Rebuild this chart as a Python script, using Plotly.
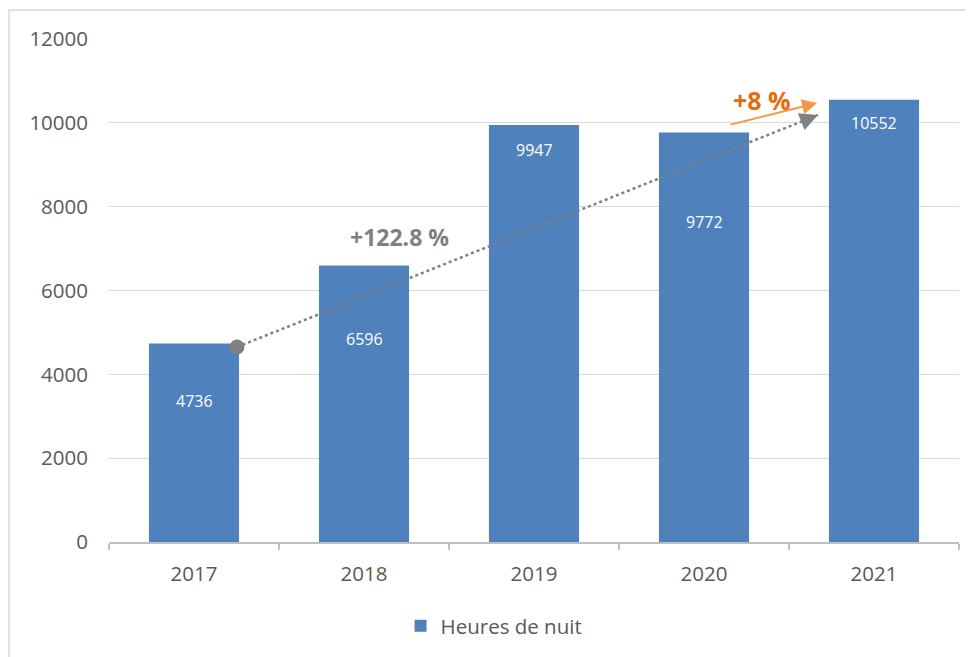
import plotly.graph_objects as go

years = ["2017", "2018", "2019", "2020", "2021"]
hours = [4736, 6596, 9947, 9772, 10552]
series_name = "Heures de nuit"
growth_total = "+122.8 %"
growth_last = "+8 %"

# vertical placement of value labels, as fraction of bar value
label_frac = [0.711, 0.734, 0.940, 0.781, 0.947]

BAR = "#4F81BD"
FONT = "Open Sans, Noto Sans, sans-serif"

pos = list(range(len(years)))

fig = go.Figure()
fig.add_trace(go.Bar(
    x=pos, y=hours, name=series_name, marker=dict(color=BAR, line=dict(width=0)),
    showlegend=True,
))

# value labels
for i, v in enumerate(hours):
    fig.add_annotation(x=pos[i], y=v * label_frac[i], text=str(v), showarrow=False,
                       font=dict(family=FONT, size=16, color="white"),
                       xref="x", yref="y")

# dotted trend line with circle at start and arrowhead at end
x_start, y_start = 0.253, 4652
x_end, y_end = 3.67, 10187
fig.add_shape(type="line", xref="x", yref="y", x0=x_start, y0=y_start, x1=x_end, y1=y_end,
              line=dict(color="#808080", width=2.5, dash="dot"))
fig.add_shape(type="circle", xref="x", yref="y", xsizemode="pixel", ysizemode="pixel",
              xanchor=x_start, yanchor=y_start, x0=-7.5, x1=7.5, y0=-7.5, y1=7.5,
              fillcolor="#808080", line=dict(color="#808080", width=0))
fig.add_annotation(x=x_end, y=y_end, ax=-11, ay=4.4, xref="x", yref="y",
                   showarrow=True, arrowhead=2, arrowsize=1.8, arrowwidth=2,
                   arrowcolor="#808080", text="", standoff=0)

# orange arrow
fig.add_annotation(x=3.665, y=10473, ax=3.147, ay=9948, xref="x", yref="y",
                   axref="x", ayref="y", showarrow=True, arrowhead=2, arrowsize=1.5,
                   arrowwidth=2, arrowcolor="#F79646", text="", standoff=0)

fig.add_annotation(x=1.21, y=7285, text="<b>%s</b>" % growth_total, showarrow=False,
                   font=dict(family=FONT, size=23, color="#7F7F7F"), xref="x", yref="y")
fig.add_annotation(x=3.34, y=10540, text="<b>%s</b>" % growth_last, showarrow=False,
                   font=dict(family=FONT, size=25, color="#E46C0A"), xref="x", yref="y")

# outer border
fig.add_shape(type="rect", xref="paper", yref="paper",
              x0=-0.1176, x1=1.5, y0=-0.6, y1=1.0577,
              line=dict(color="#D9D9D9", width=1.5), fillcolor="rgba(0,0,0,0)", layer="below")

bounds = [p - 0.5 for p in pos] + [pos[-1] + 0.5]

fig.update_layout(
    width=973, height=657,
    margin=dict(l=101, r=22, t=31, b=123),
    paper_bgcolor="white", plot_bgcolor="white",
    bargap=0.47,
    font=dict(family=FONT, size=20, color="#595959"),
    legend=dict(orientation="h", x=0.343, xanchor="left", y=-0.167, yanchor="middle",
                font=dict(family=FONT, size=20.5, color="#595959"), itemsizing="constant"),
    xaxis=dict(range=[-0.5, len(years) - 0.5], tickmode="array", tickvals=pos, ticktext=years,
               showgrid=False, zeroline=False, showline=True, linecolor="#BFBFBF",
               linewidth=1.5, ticks="", ticklabelstandoff=13, automargin=False,
               minor=dict(tickmode="array", tickvals=bounds, ticks="outside", ticklen=6,
                          tickcolor="#BFBFBF", tickwidth=1.5, showgrid=False),
               tickfont=dict(family=FONT, size=20.5, color="#595959")),
    yaxis=dict(range=[0, 12000], dtick=2000, showgrid=True, gridcolor="#D9D9D9",
               gridwidth=1, zeroline=False, showline=False, ticks="", automargin=False,
               ticklabelstandoff=20, tickformat="d",
               tickfont=dict(family=FONT, size=20.5, color="#595959")),
)

fig.write_html("out.html")
